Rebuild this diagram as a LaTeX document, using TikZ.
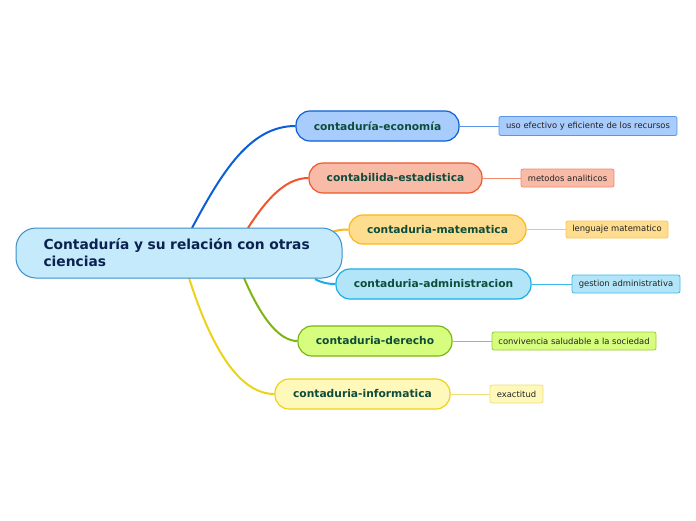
\documentclass[tikz,border=0pt]{standalone}
\usepackage{fontspec}
\setmainfont{DejaVu Sans}
\usetikzlibrary{calc,backgrounds}
\definecolor{maintext}{HTML}{0B2250}
\definecolor{childtext}{HTML}{0E4D3B}
\definecolor{leaftext}{HTML}{222222}
\definecolor{mainfill}{HTML}{C5EAFB}
\definecolor{maindraw}{HTML}{3A8FCB}
\definecolor{bfill}{HTML}{A8CCFC}\definecolor{bdraw}{HTML}{0B5FD6}\definecolor{bleaf}{HTML}{5B95E8}
\definecolor{ofill}{HTML}{F8BBA8}\definecolor{odraw}{HTML}{F0562A}\definecolor{oleaf}{HTML}{F08A6A}
\definecolor{yfill}{HTML}{FFDD8E}\definecolor{ydraw}{HTML}{FBB718}\definecolor{yleaf}{HTML}{FBC84A}
\definecolor{cfill}{HTML}{B3E5F8}\definecolor{cdraw}{HTML}{1AAEE8}\definecolor{cleaf}{HTML}{3CB8EA}
\definecolor{gfill}{HTML}{D6FD7E}\definecolor{gdraw}{HTML}{7DB513}\definecolor{gleaf}{HTML}{9DCB3A}
\definecolor{lfill}{HTML}{FFF8BB}\definecolor{ldraw}{HTML}{EDD21A}\definecolor{lleaf}{HTML}{EFE07A}
\tikzset{
  mainbox/.style={draw=maindraw, fill=mainfill, line width=1pt, rounded corners=20pt,
    minimum width=326pt, minimum height=50pt, text width=271pt, inner xsep=27.5pt,
    align=left, font=\fontsize{13.8}{17}\selectfont\bfseries, text=maintext},
  childbox/.style={line width=1.2pt, rounded corners=14pt, minimum height=30pt,
    inner sep=0pt, font=\fontsize{10.7}{12}\selectfont\bfseries, text=childtext},
  leafbox/.style={line width=0.8pt, rounded corners=2pt, minimum height=18pt,
    inner sep=0pt, font=\fontsize{8.4}{10}\selectfont, text=leaftext},
  branch/.style={line width=2pt},
  leafline/.style={line width=0.8pt}
}
\begin{document}
\begin{tikzpicture}[x=1pt,y=-1pt]
\useasboundingbox (0,0) rectangle (696,520);
\node[mainbox] (main) at (179,253) {Contaduría y su relación con otras\\ciencias};

\node[childbox, draw=bdraw, fill=bfill, minimum width=163pt] (c1) at (377.5,126) {contaduría-economía};
\node[childbox, draw=odraw, fill=ofill, minimum width=173pt] (c2) at (395.5,178) {contabilida-estadistica};
\node[childbox, draw=ydraw, fill=yfill, minimum width=177pt, minimum height=29pt] (c3) at (437.5,229.5) {contaduria-matematica};
\node[childbox, draw=cdraw, fill=cfill, minimum width=195pt] (c4) at (433.5,284) {contaduria-administracion};
\node[childbox, draw=gdraw, fill=gfill, minimum width=154pt] (c5) at (375,341) {contaduria-derecho};
\node[childbox, draw=ldraw, fill=lfill, minimum width=175pt] (c6) at (362.5,394) {contaduria-informatica};

\node[leafbox, draw=bleaf, fill=bfill, minimum width=178pt, minimum height=19pt] (l1) at (588,126) {uso efectivo y eficiente de los recursos};
\node[leafbox, draw=oleaf, fill=ofill, minimum width=93pt] (l2) at (567.5,178) {metodos analiticos};
\node[leafbox, draw=yleaf, fill=yfill, minimum width=102pt, minimum height=17pt] (l3) at (617,229.5) {lenguaje matematico};
\node[leafbox, draw=cleaf, fill=cfill, minimum width=108pt] (l4) at (626,284) {gestion administrativa};
\node[leafbox, draw=gleaf, fill=gfill, minimum width=164pt] (l5) at (574,341) {convivencia saludable a la sociedad};
\node[leafbox, draw=lleaf, fill=lfill, minimum width=53pt] (l6) at (516.5,394) {exactitud};

\coordinate (s1) at (192,228);
\coordinate (s2) at (248,228);
\coordinate (s3) at (332,232);
\coordinate (s4) at (315,279);
\coordinate (s5) at (244,278);
\coordinate (s6) at (189,278);

\begin{scope}[on background layer]
\draw[branch, bdraw] (s1) .. controls (222,172) and (250,126) .. (c1.west);
\draw[branch, odraw] (s2) .. controls (266,200) and (285,178) .. (c2.west);
\draw[branch, ydraw] (s3) .. controls (338,230) and (342,229.5) .. (c3.west);
\draw[branch, cdraw] (s4) .. controls (322,283) and (328,284) .. (c4.west);
\draw[branch, gdraw] (s5) .. controls (262,320) and (280,341) .. (c5.west);
\draw[branch, ldraw] (s6) .. controls (212,350) and (240,394) .. (c6.west);
\draw[leafline, bleaf] (c1.east) -- (l1.west);
\draw[leafline, oleaf] (c2.east) -- (l2.west);
\draw[leafline, yleaf] (c3.east) -- (l3.west);
\draw[leafline, cleaf] (c4.east) -- (l4.west);
\draw[leafline, gleaf] (c5.east) -- (l5.west);
\draw[leafline, lleaf] (c6.east) -- (l6.west);
\end{scope}
\end{tikzpicture}
\end{document}
